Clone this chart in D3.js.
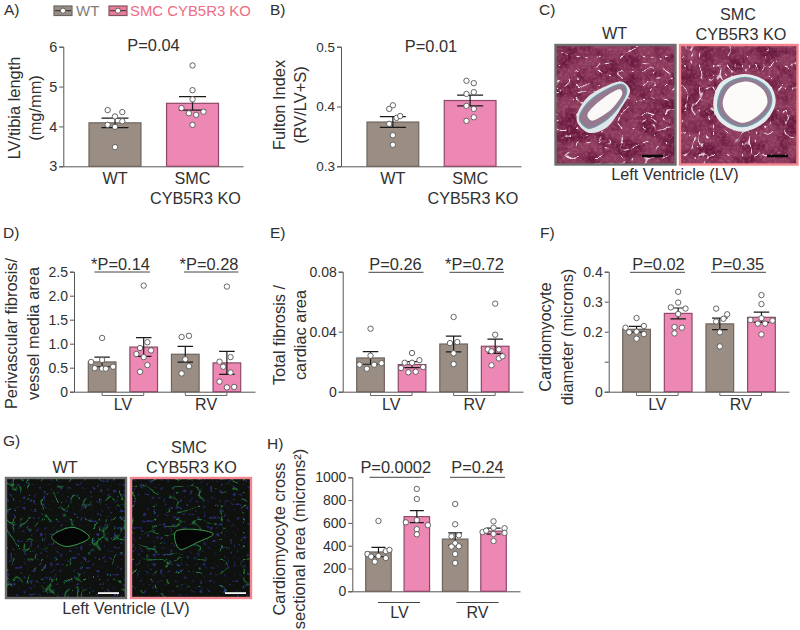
<!DOCTYPE html>
<html>
<head>
<meta charset="utf-8">
<script src="https://cdn.jsdelivr.net/npm/d3@7"></script>
<style>
html,body{margin:0;padding:0;background:#fff}
svg{display:block}
text{font-family:"Liberation Sans",Arial,sans-serif;fill:#303030}
</style>
</head>
<body>
<svg id="fig" width="800" height="630"></svg>
<script>
// gap in a swarm row
const _ = null;

const groupsAB = ["WT", "SMC CYB5R3 KO"];
const groupsLVRV = ["LV WT", "LV KO", "RV WT", "RV KO"];

const aMeans = [4.09, 4.58];
const aErrors = [0.12, 0.17];
const aWT = [[4.41,_,_,_,4.36],[4.25],[4.04,_,3.99,_,4.13],[3.48]];
const aKO = [[5.53],[4.91],[4.68],[4.46,_,4.33,_,4.29,_,4.37],[4.04]];
const aTicks = [3,4,5,6];

const bMeans = [0.374, 0.41];
const bErrors = [0.009, 0.009];
const bWT = [[0.402],[0.396,_,_],[_,_,_,0.381,0.384],[0.371,_,_],[0.352],[0.336]];
const bKO = [[0.443,_,0.439],[0.421,_,0.424],[0.401,_,0.396],[0.376,_,0.382]];
const bTicks = [0.3,0.4,0.5];

const dMeans = [0.62, 0.93, 0.78, 0.60];
const dErrors = [0.10, 0.195, 0.165, 0.24];
const dPoints = [
  [[1.12],[0.66],[0.62,0.49,_,0.48,0.48,_,0.52]],
  [[2.21],[0.91,_,1.03],[0.785,_,_,_,0.86],[0.72],[0.415,_,0.555]],
  [[1.14,_,1.165],[0.675],[0.38,_,0.53]],
  [[2.19],[0.625,_,_,0.72,_],[0.52,_,0.40],[0.21,_,0.09,_,0.10]]
];
const dTicks = [0,0.5,1,1.5,2,2.5];
const dTickLabels = ["0","0.5","1.0","1.5","2.0","2.5"];

const eMeans = [0.0225, 0.0181, 0.0318, 0.0303];
const eErrors = [0.0042, 0.002, 0.0052, 0.0048];
const ePoints = [
  [[0.042],[0.024],[0.018,_,0.0153,_,0.018,_,0.019]],
  [[0.0258],[0.0193,_,0.0193,_,0.021],[0.0158,_,0.0129,_,0.0133,_,0.0164]],
  [[0.0498],[0.0324,_,0.0331],[0.0256],[0.0184]],
  [[0.0587],[0.038],[0.0282,0.0269,_,0.0282,_],[_,_,_,0.0222,0.0236],[0.0176,_,_]]
];
const eTicks = [0,0.04,0.08];
const eTickLabels = ["0","0.04","0.08"];

const fMeans = [0.208, 0.261, 0.226, 0.248];
const fErrors = [0.0095, 0.018, 0.019, 0.017];
const fPoints = [
  [[0.2456],[0.2133,_,_,_,_,0.2189,_],[0.198,_,0.2,_,0.192],[0.1767]],
  [[0.333],[0.297],[0.281,_,_,_,0.277],[0.259],[0.2156,_,0.2133],[0.1944,_,_]],
  [[0.277,_,_],[_,_,_,_,0.258],[0.234,_,0.243],[0.198],[0.151]],
  [[0.322],[0.292],[0.245],[0.239,_,_,_,_,_,0.237],[0.227,_,0.227],[0.191]]
];
const fTicks = [0,0.1,0.2,0.3,0.4];
const fTickLabels = ["0","","0.2","0.3","0.4"];

const hMeans = [345, 655, 458, 528];
const hErrors = [40, 52, 54, 26];
const hPoints = [
  [[617],[327,_,_,_,_,352,363],[304,_,310,_,292],[260,_,_]],
  [[898],[810],[625],[605,_,_,_,_,_,580],[545],[500]],
  [[766],[588],[482,_,491],[421],[392,_,395],[327],[249]],
  [[614],[558],[520,532,_,_,_,_,553],[_,_,_,503,_,_,512],[441]]
];
const hTicks = [0,200,400,600,800,1000];

const C = {
  wt:"#9a8e84", wtEdge:"#6e645c", ko:"#ec88b3", koEdge:"#8d4a68",
  axis:"#555", txt:"#303030", legendGray:"#7d7d7d", legendPink:"#ee6c86",
  frameGray:"#6e6e6e", framePink:"#f2858f"
};
const SLOT = 3.67, R = 2.7;
const svg = d3.select("#fig");
const defs = svg.append("defs");

function label(t,x,y,size=16.3,anchor="middle",extra){
  const n = svg.append("text").attr("x",x).attr("y",y).attr("font-size",size)
    .attr("text-anchor",anchor).text(t);
  if(extra) n.attr("fill",extra).style("fill",extra);
  return n;
}
function ylabel(lines,xs,cy,size=16.4){
  lines.forEach((t,i)=>{
    svg.append("text").attr("transform",`translate(${xs[i]},${cy}) rotate(-90)`)
      .attr("font-size",size).attr("text-anchor","middle").text(t);
  });
}

function barPanel(o){
  const g = svg.append("g");
  const y = d3.scaleLinear().domain(o.domain).range(o.yRange);
  const band = d3.scaleBand().domain(o.groups).range(o.barRange).paddingInner(o.inner);
  const cx = k => band(k)+band.bandwidth()/2;

  const ax = d3.axisLeft(y).tickValues(o.ticks).tickSize(4).tickPadding(2)
    .tickFormat((d,i)=> o.tickLabels ? o.tickLabels[i] : o.fmt(d));
  const ag = g.append("g").attr("transform",`translate(${o.axisX},0)`).call(ax);
  ag.selectAll("path,line").attr("stroke",C.axis).attr("stroke-width",1);
  ag.selectAll("text").attr("font-size",o.tickSize||14).style("fill",C.txt)
    .attr("font-family",'"Liberation Sans",Arial,sans-serif');

  const xs = d3.scaleLinear().domain([0,1]).range([o.axisX,o.axisEnd]);
  const xa = d3.axisBottom(xs).tickValues([]).tickSizeOuter(0);
  const xg = g.append("g").attr("transform",`translate(0,${o.yRange[0]})`).call(xa);
  xg.selectAll("path").attr("stroke",C.axis).attr("stroke-width",1);

  o.groups.forEach((k,i)=>{
    const wt = i%2===0;
    g.append("rect").attr("x",band(k)).attr("width",band.bandwidth())
      .attr("y",y(o.means[i])).attr("height",o.yRange[0]-y(o.means[i]))
      .attr("fill",wt?C.wt:C.ko).attr("stroke",wt?C.wtEdge:C.koEdge).attr("stroke-width",1.2);
  });
  o.groups.forEach((k,i)=>{
    const c=cx(k), hi=y(o.means[i]+o.errors[i]), lo=y(o.means[i]-o.errors[i]), w=o.cap/2;
    const p=d3.path();
    p.moveTo(c,hi);p.lineTo(c,lo);
    p.moveTo(c-w,hi);p.lineTo(c+w,hi);
    p.moveTo(c-w,lo);p.lineTo(c+w,lo);
    g.append("path").attr("d",p.toString()).attr("fill","none").attr("stroke","#1a1a1a").attr("stroke-width",1.2);
  });
  o.groups.forEach((k,i)=>{
    const pts=[];
    o.points[i].forEach(row=>{
      row.forEach((v,j)=>{
        if(v===null) return;
        pts.push({x:cx(k)+(j-(row.length-1)/2)*SLOT,y:y(v)});
      });
    });
    g.selectAll(null).data(pts).join("circle")
      .attr("cx",d=>d.x).attr("cy",d=>d.y).attr("r",R)
      .attr("fill","#fff").attr("stroke","#555").attr("stroke-width",0.9);
  });
  return {cx,band,y};
}

function pLabel(t,cx,x1,x2,lineY,baseY,size=16.4){
  label(t,cx,baseY,size);
  svg.append("line").attr("x1",x1).attr("x2",x2).attr("y1",lineY).attr("y2",lineY)
    .attr("stroke","#444").attr("stroke-width",1);
}
function bracket(panel,a,b,y0,name,base){
  const x1=panel.cx(a), x2=panel.cx(b);
  svg.append("path").attr("d",`M${x1},${y0}V${y0+3.5}H${x2}V${y0}`)
    .attr("fill","none").attr("stroke","#6a6a6a").attr("stroke-width",1);
  label(name,(x1+x2)/2,base,16);
}

/* ---------- panel letters ---------- */
[["A)",4,15],["B)",270,15],["C)",539,15],["D)",3,238],["E)",270,238],["F)",540,238],["G)",3,446],["H)",267,449]]
  .forEach(d=>label(d[0],d[1],d[2],15.5,"start"));

/* ---------- legend ---------- */
function swatch(x,fill,edge){
  const g=svg.append("g");
  g.append("rect").attr("x",x).attr("y",6).attr("width",18).attr("height",9.5)
    .attr("fill",fill).attr("stroke",edge).attr("stroke-width",1.2);
  g.append("line").attr("x1",x+1).attr("x2",x+17).attr("y1",10.7).attr("y2",10.7).attr("stroke","#222").attr("stroke-width",0.9);
  g.append("circle").attr("cx",x+9).attr("cy",10.7).attr("r",2.6).attr("fill","#fff").attr("stroke","#444").attr("stroke-width",0.8);
}
swatch(54,C.wt,"#666");
label("WT",76,16,15,"start",C.legendGray);
swatch(109,"#ee7c98","#7d5560");
label(groupsAB[1],130,16,14.9,"start",C.legendPink);

/* ---------- A ---------- */
const pA = barPanel({groups:groupsAB,means:aMeans,errors:aErrors,points:[aWT,aKO],domain:[3,6],yRange:[166.3,46.7],
  ticks:aTicks,fmt:d3.format("d"),axisX:63.3,axisEnd:243,barRange:[89,218.5],inner:0.33,cap:27,tickSize:14.5});
label("P=0.04",153.5,50.5,16.4);
label("WT",pA.cx(groupsAB[0]),184,16.2);
label("SMC",pA.cx(groupsAB[1]),184,16.2);
label("CYB5R3 KO",195.5,204,16.2);
ylabel(["LV/tibia length","(mg/mm)"],[19.5,40.5],108);

/* ---------- B ---------- */
const pB = barPanel({groups:groupsAB,means:bMeans,errors:bErrors,points:[bWT,bKO],domain:[0.3,0.5],yRange:[166.3,46.7],
  ticks:bTicks,fmt:d3.format(".1f"),axisX:341,axisEnd:521,barRange:[367,496],inner:0.33,cap:26,tickSize:13.5});
label("P=0.01",431,52,16.4);
label("WT",pB.cx(groupsAB[0]),184,16.2);
label("SMC",pB.cx(groupsAB[1]),184,16.2);
label("CYB5R3 KO",473,204,16.2);
ylabel(["Fulton Index","(RV/LV+S)"],[285,305.5],105);

/* ---------- D ---------- */
const pD = barPanel({groups:groupsLVRV,means:dMeans,errors:dErrors,points:dPoints,domain:[0,2.5],yRange:[391.7,271.7],
  ticks:dTicks,tickLabels:dTickLabels,axisX:74,axisEnd:255,barRange:[88.3,240.7],inner:0.335,cap:15.5,tickSize:14});
pLabel("*P=0.14",120.5,94.5,150,272,270);
pLabel("*P=0.28",209,184,238.5,272,270);
bracket(pD,groupsLVRV[0],groupsLVRV[1],392,"LV",410);
bracket(pD,groupsLVRV[2],groupsLVRV[3],392,"RV",410);
ylabel(["Perivascular fibrosis/","vessel media area"],[16.5,39],333.5);

/* ---------- E ---------- */
const pE = barPanel({groups:groupsLVRV,means:eMeans,errors:eErrors,points:ePoints,domain:[0,0.08],yRange:[391.7,271.7],
  ticks:eTicks,tickLabels:eTickLabels,axisX:342.7,axisEnd:523,barRange:[356.7,509],inner:0.335,cap:15.5,tickSize:14});
pLabel("P=0.26",395.5,368.5,423.5,272.3,270);
pLabel("*P=0.72",474.5,449.5,504,272.3,270);
bracket(pE,groupsLVRV[0],groupsLVRV[1],392,"LV",410);
bracket(pE,groupsLVRV[2],groupsLVRV[3],392,"RV",410);
ylabel(["Total fibrosis /","cardiac area"],[285,306],335);

/* ---------- F ---------- */
const pF = barPanel({groups:groupsLVRV,means:fMeans,errors:fErrors,points:fPoints,domain:[0,0.4],yRange:[391.7,271.7],
  ticks:fTicks,tickLabels:fTickLabels,axisX:608.7,axisEnd:789,barRange:[622.7,775.3],inner:0.335,cap:15.5,tickSize:14});
pLabel("P=0.02",658.5,630,685,272.3,270);
pLabel("P=0.35",738,711,766,272.3,270);
bracket(pF,groupsLVRV[0],groupsLVRV[1],392,"LV",410);
bracket(pF,groupsLVRV[2],groupsLVRV[3],392,"RV",410);
ylabel(["Cardiomyocyte","diameter (microns)"],[551,572.5],337);

/* ---------- H ---------- */
const pH = barPanel({groups:groupsLVRV,means:hMeans,errors:hErrors,points:hPoints,domain:[0,1000],yRange:[591.3,477.3],
  ticks:hTicks,fmt:d3.format("d"),axisX:352.3,axisEnd:520,barRange:[365.7,506.3],inner:0.335,cap:14,tickSize:14});
pLabel("P=0.0002",395.7,369.5,424,477.3,473);
pLabel("P=0.24",477.5,450,505,477.3,473);
[[378,420,"LV",399.5],[456.5,498.5,"RV",477.5]].forEach(d=>{
  svg.append("line").attr("x1",d[0]).attr("x2",d[1]).attr("y1",602.5).attr("y2",602.5).attr("stroke","#444").attr("stroke-width",1);
  label(d[2],d[3],618,16);
});
ylabel(["Cardiomyocyte cross","sectional area (microns²)"],[284.5,305],539);

/* ---------- micrographs (decorative textures) ---------- */
function f(id,build){
  const n=defs.append("filter").attr("id",id).attr("x",0).attr("y",0).attr("width","100%").attr("height","100%")
    .attr("color-interpolation-filters","sRGB");
  build(n);
}
function noiseFilter(id,type,freq,oct,seed,matrix,blur){
  f(id,n=>{
    n.append("feTurbulence").attr("type",type).attr("baseFrequency",freq).attr("numOctaves",oct).attr("seed",seed);
    n.append("feColorMatrix").attr("type","matrix").attr("values",matrix);
    if(blur) n.append("feGaussianBlur").attr("stdDeviation",blur);
  });
}
noiseFilter("mottle","fractalNoise","0.05 0.07",3,4,"0 0 0 0 0.36  0 0 0 0 0.05  0 0 0 0 0.20  3.2 0 0 0 -1.25");
noiseFilter("grain","fractalNoise","0.35",2,8,"0 0 0 0 0.78  0 0 0 0 0.46  0 0 0 0 0.58  0 2.6 0 0 -1.1",0.3);
noiseFilter("cracksA","turbulence","0.045 0.07",2,11,"0 0 0 0 1  0 0 0 0 0.96  0 0 0 0 0.97  -17 0 0 0 1.35",0.35);
noiseFilter("cracksB","turbulence","0.07 0.045",2,23,"0 0 0 0 1  0 0 0 0 0.96  0 0 0 0 0.97  -17 0 0 0 1.35",0.35);
noiseFilter("greenA","turbulence","0.07 0.05",2,5,"0 0 0 0 0.14  0 0 0 0 0.55  0 0 0 0 0.25  -13 0 0 0 1.15",0.3);
noiseFilter("greenB","turbulence","0.045 0.075",2,17,"0 0 0 0 0.14  0 0 0 0 0.55  0 0 0 0 0.25  -13 0 0 0 1.15",0.3);
noiseFilter("blue","fractalNoise","0.3",1,31,"0 0 0 0 0.20  0 0 0 0 0.20  0 0 0 0 0.60  0 0 9 0 -5.55",0.4);

const blob = d3.line().curve(d3.curveCatmullRomClosed.alpha(0.5));

function micro(id,x,y,w,h,frame,kind,crack){
  defs.append("clipPath").attr("id",id).append("rect").attr("x",x).attr("y",y).attr("width",w).attr("height",h);
  const g=svg.append("g").attr("clip-path",`url(#${id})`);
  const fill=(ff,op=1)=>g.append("rect").attr("x",x).attr("y",y).attr("width",w).attr("height",h).attr("filter",`url(#${ff})`).attr("opacity",op);
  if(kind==="stain"){
    g.append("rect").attr("x",x).attr("y",y).attr("width",w).attr("height",h).attr("fill","#8b3a5c");
    fill("mottle",0.7); fill("grain",0.4); fill(crack,0.85);
  }else{
    g.append("rect").attr("x",x).attr("y",y).attr("width",w).attr("height",h).attr("fill","#0e110e");
    fill(crack,0.85); fill("blue",0.7);
  }
  svg.append("rect").attr("x",x).attr("y",y).attr("width",w).attr("height",h)
    .attr("fill","none").attr("stroke",frame).attr("stroke-width",2.4);
  return g;
}
function toPx(pts,ox,oy){return pts.map(p=>[ox+p[0]/3,oy+p[1]/3]);}

// C, WT
const cWT = micro("c1",555.5,45,120,119.5,C.frameGray,"stain","cracksA");
const cWTouter=[[125,360],[150,300],[205,262],[262,245],[285,270],[258,325],[212,385],[160,398]];
const cWTmedia=[[133,358],[155,312],[208,272],[262,253],[275,272],[250,322],[205,366],[160,385]];
const cWTlumen=[[157,345],[205,295],[255,268],[262,280],[232,325],[195,352],[170,362]];
cWT.append("path").attr("d",blob(toPx(cWTouter,535,0))).attr("fill","#dfe6ea");
cWT.append("path").attr("d",blob(toPx(cWTmedia,535,0))).attr("fill","#97798f").attr("stroke","#6c9aa8").attr("stroke-width",1.2);
cWT.append("path").attr("d",blob(toPx(cWTlumen,535,0))).attr("fill","#fbf8f8");
// C, KO
const cKO = micro("c2",680,45,117.5,119.5,C.framePink,"stain","cracksB");
const cKOouter=[[535,320],[555,250],[630,222],[700,250],[722,305],[690,365],[620,395],[555,365]];
const cKOmedia=[[548,318],[568,258],[630,232],[692,258],[710,305],[680,355],[622,380],[565,355]];
const cKOlumen=[[563,310],[585,262],[640,245],[685,270],[697,310],[665,350],[620,368],[578,345]];
cKO.append("path").attr("d",blob(toPx(cKOouter,535,0))).attr("fill","#e4ecee");
cKO.append("path").attr("d",blob(toPx(cKOmedia,535,0))).attr("fill","#937b91").attr("stroke","#6c9aa8").attr("stroke-width",1.4);
cKO.append("path").attr("d",blob(toPx(cKOlumen,535,0))).attr("fill","#fdfbf9");
svg.append("rect").attr("x",642).attr("y",154.7).attr("width",21).attr("height",2.6).attr("fill","#0a0a0a");
svg.append("rect").attr("x",767).attr("y",154.7).attr("width",21).attr("height",2.6).attr("fill","#0a0a0a");
label("WT",614.5,39,16.2);
label("SMC",738,20,16.2);
label("CYB5R3 KO",741,40,16.2);
label("Left Ventricle (LV)",675,180,16.2);

// G
const gWT = micro("g1",6,478,120,120,C.frameGray,"dark","greenA");
const gKO = micro("g2",131,478,120,120,C.framePink,"dark","greenB");
const gWTlumen=[[155,322],[185,300],[225,293],[268,322],[225,345],[190,348]];
const gKOlumen=[[527,305],[580,298],[640,312],[590,338],[540,358],[526,335]];
gWT.append("path").attr("d",blob(toPx(gWTlumen,0,430))).attr("fill","#050505").attr("stroke","#3b9c4e").attr("stroke-width",1);
gKO.append("path").attr("d",blob(toPx(gKOlumen,0,430))).attr("fill","#050505").attr("stroke","#3b9c4e").attr("stroke-width",1);
svg.append("rect").attr("x",98).attr("y",592.2).attr("width",21).attr("height",1.8).attr("fill","#f4f4f4");
svg.append("rect").attr("x",225).attr("y",592.2).attr("width",21).attr("height",1.8).attr("fill","#f4f4f4");
label("WT",65,473,16.2);
label("SMC",189,453,16.2);
label("CYB5R3 KO",191.5,473,16.2);
label("Left Ventricle (LV)",126,613.5,16.2);
</script>
</body>
</html>
